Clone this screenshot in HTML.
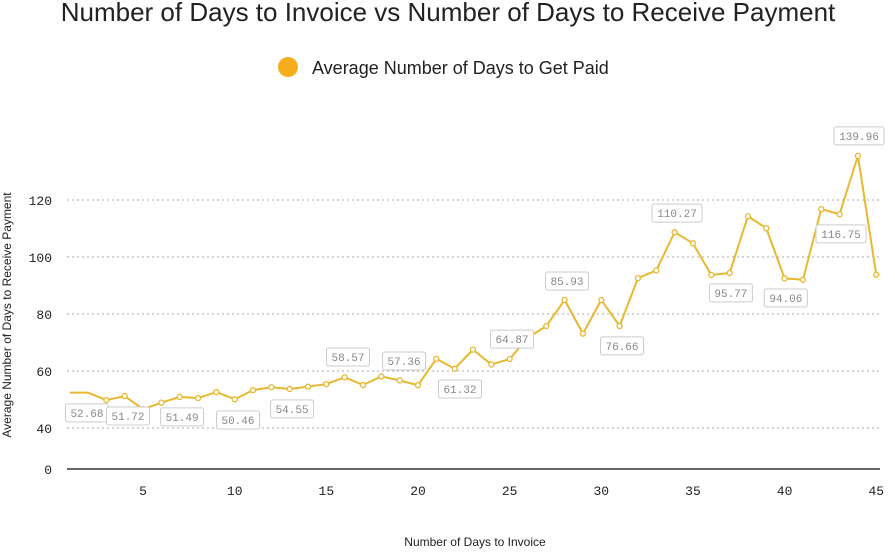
<!DOCTYPE html>
<html><head><meta charset="utf-8">
<style>
body{margin:0;background:#fff;width:895px;height:551px;overflow:hidden;font-family:"Liberation Sans",sans-serif}
</style></head>
<body>
<svg width="895" height="551" id="chart">
<text x="448" y="21" text-anchor="middle" font-size="26" fill="#222">Number of Days to Invoice vs Number of Days to Receive Payment</text>
<g>
<circle cx="288" cy="67" r="10" fill="#f5ad1b"/>
<text x="312" y="74" font-size="18" fill="#222">Average Number of Days to Get Paid</text>
</g>
<text transform="translate(11,315) rotate(-90)" text-anchor="middle" font-size="12" fill="#222">Average Number of Days to Receive Payment</text>
<text x="475" y="546" text-anchor="middle" font-size="12" fill="#222">Number of Days to Invoice</text>
<g id="grid"></g><g id="marks"></g><g id="labels"></g>
</svg>
<script>
const xs_vals=[1,2,3,4,5,6,7,8,9,10,11,12,13,14,15,16,17,18,19,20,21,22,23,24,25,26,27,28,29,30,31,32,33,34,35,36,37,38,39,40,41,42,43,44,45];
const ys_vals=[52.4,52.4,49.8,51.2,46.6,48.9,50.9,50.5,52.6,50.1,53.3,54.3,53.7,54.5,55.4,57.8,55.1,58.1,56.7,55.0,64.3,60.8,67.5,62.3,64.2,71.7,75.8,84.9,73.1,84.9,75.8,92.6,95.3,108.7,104.8,93.7,94.4,114.3,110.1,92.5,92.0,116.8,115.0,135.5,93.8];
const yTicks=[0,40,60,80,100,120];
const xTicks=[5,10,15,20,25,30,35,40,45];
const labelText=["52.68","51.72","51.49","50.46","54.55","58.57","57.36","61.32","64.87","85.93","76.66","110.27","95.77","94.06","116.75","139.96"];
const labelX=[1.94,4.18,7.13,10.18,13.13,16.18,19.24,22.29,25.13,28.13,31.13,34.13,37.07,40.07,43.08,44.06];
const labelY=[45.3,44.2,43.9,42.8,46.7,64.9,63.5,53.7,71.2,91.6,68.8,115.4,87.4,85.6,108.1,142.5];
const NS="http://www.w3.org/2000/svg";
function xs(v){return 51.4+v*18.33;}
function ys(v){return v>=40?428-(v-40)*2.85:469-v*(41/40);}
function mk(t,a,p){const e=document.createElementNS(NS,t);for(const k in a)e.setAttribute(k,a[k]);document.getElementById(p).appendChild(e);return e;}
yTicks.forEach(t=>{
  if(t>0){const l=mk('line',{x1:67,x2:880,y1:ys(t),y2:ys(t),stroke:'#aaa','stroke-dasharray':'2,3'},'grid');
  
  }
  const tx=mk('text',{x:52,y:ys(t)+5,'text-anchor':'end','font-family':'Liberation Mono, monospace','font-size':13,fill:'#222'},'grid');
  tx.textContent=t;
  
  
});
const base=mk('line',{x1:67,x2:880,y1:469,y2:469,stroke:'#666','stroke-width':2},'grid');


xTicks.forEach(t=>{
  const tx=mk('text',{x:xs(t),y:495,'text-anchor':'middle','font-family':'Liberation Mono, monospace','font-size':13,fill:'#222'},'grid');
  tx.textContent=t;
  
  
});
const pts=xs_vals.map((x,i)=>xs(x)+','+ys(ys_vals[i])).join(' ');
const pl=mk('polyline',{points:pts,fill:'none',stroke:'#e8b830','stroke-width':2,'stroke-linejoin':'round'},'marks');


xs_vals.forEach((x,i)=>{
  if(i<2)return;
  const c=mk('circle',{cx:xs(x),cy:ys(ys_vals[i]),r:2.5,fill:'#fff',stroke:'#e8b830','stroke-width':1.3},'marks');
  
  
});
labelText.forEach((t,i)=>{
  const cx=xs(labelX[i]),cy=ys(labelY[i]);
  const w=t.length*7+8;
  const r=mk('rect',{x:cx-w/2,y:cy-9,width:w,height:18,rx:2,fill:'#fff',stroke:'#ccc'},'labels');
  
  
  const tx=mk('text',{x:cx,y:cy+4,'text-anchor':'middle','font-family':'Liberation Mono, monospace','font-size':11,fill:'#888'},'labels');
  tx.textContent=t;
  
  
});
</script>
</body></html>
